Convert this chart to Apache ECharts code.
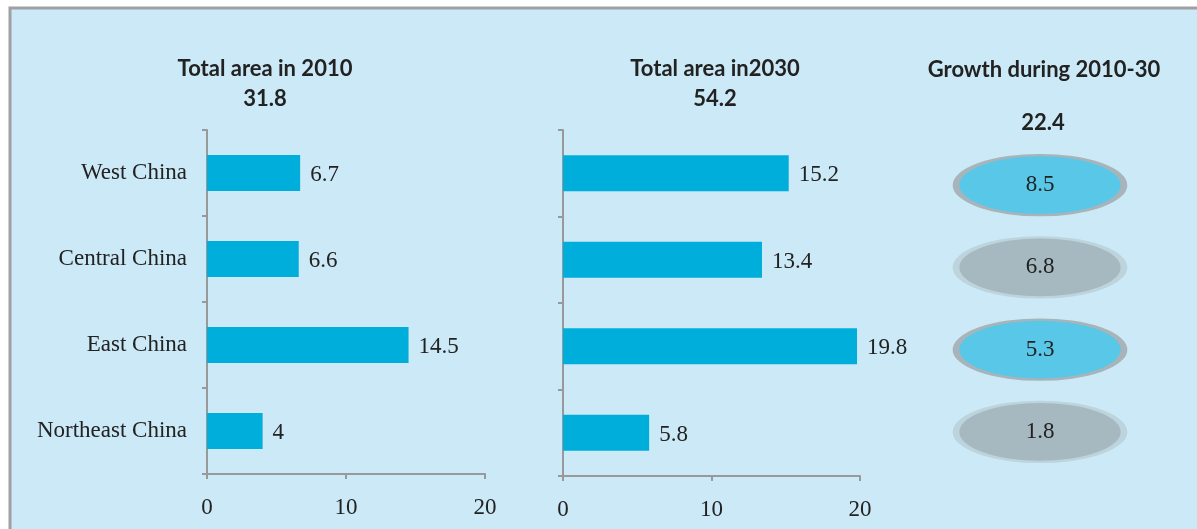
<!DOCTYPE html>
<html>
<head>
<meta charset="utf-8">
<script src="https://cdn.jsdelivr.net/npm/echarts@6/dist/echarts.min.js"></script>
<style>
  html, body { margin: 0; padding: 0; background: #fff; }
  #chart { width: 1197px; height: 529px; }
</style>
</head>
<body>
<div id="chart"></div>
<script>
  // data
  var regions = ['West China', 'Central China', 'East China', 'Northeast China'];
  var area2010 = [6.7, 6.6, 14.5, 4];
  var area2030 = [15.2, 13.4, 19.8, 5.8];
  var growth = [8.5, 6.8, 5.3, 1.8];
  var xTicks = [0, 10, 20];
  var title2010 = ['Total area in 2010', '31.8'];
  var title2030 = ['Total area in2030', '54.2'];
  var titleGrowth = ['Growth during 2010-30', '22.4'];

  var myChart = echarts.init(document.getElementById('chart'));
  var serif = '"Liberation Serif", "Times New Roman", serif';
  var sans = 'Lato, "Open Sans", sans-serif';
  var axisGray = '#999999';

  function valueAxis(gridIndex) {
    return {
      type: 'value', gridIndex: gridIndex,
      min: xTicks[0], max: xTicks[xTicks.length - 1], interval: xTicks[1] - xTicks[0],
      axisLine: { show: true, lineStyle: { color: axisGray, width: 2 } },
      axisTick: { show: true, length: 5, lineStyle: { color: axisGray, width: 2 } },
      splitLine: { show: false },
      axisLabel: { margin: 22, fontFamily: serif, fontSize: 23, color: '#222' }
    };
  }
  function catAxis(gridIndex, showLabels) {
    return {
      type: 'category', gridIndex: gridIndex, data: regions, inverse: true,
      axisLine: { show: true, lineStyle: { color: axisGray, width: 2 } },
      axisTick: { show: true, length: 5, lineStyle: { color: axisGray, width: 2 } },
      axisLabel: { show: showLabels, margin: 20, fontFamily: serif, fontSize: 23, color: '#222' }
    };
  }
  function barSeries(idx, values) {
    return {
      type: 'bar', xAxisIndex: idx, yAxisIndex: idx, data: values,
      barWidth: 36,
      itemStyle: { color: '#00AEDB' },
      label: {
        show: true, position: 'right', distance: 10, offset: [0, 2],
        fontFamily: serif, fontSize: 23, color: '#222'
      }
    };
  }

  var ellipseData = growth.map(function (g, i) {
    var blue = i % 2 === 0;
    return {
      value: [0, regions[i], g],
      itemStyle: blue
        ? { color: '#59C8E8', borderColor: '#A8B4BA', borderWidth: 4 }
        : { color: '#A6B9C1', borderColor: '#BDD4DD', borderWidth: 4 }
    };
  });

  var option = {
    animation: false,
    backgroundColor: '#ffffff',
    graphic: [
      {
        type: 'rect', z: -10, silent: true,
        shape: { x: 10, y: 8, width: 1200, height: 540 },
        style: { fill: '#CBE9F6', stroke: '#A0A0A0', lineWidth: 3 }
      },
      {
        type: 'text', x: 265, y: 54,
        style: { text: title2010.join('\n'), align: 'center', fill: '#222',
                 font: 'bold 22px ' + sans, lineHeight: 30 }
      },
      {
        type: 'text', x: 715, y: 54,
        style: { text: title2030.join('\n'), align: 'center', fill: '#222',
                 font: 'bold 22px ' + sans, lineHeight: 30 }
      },
      {
        type: 'text', x: 1044, y: 59,
        style: { text: titleGrowth[0], align: 'center', fill: '#222', font: 'bold 22px ' + sans }
      },
      {
        type: 'text', x: 1043, y: 112,
        style: { text: titleGrowth[1], align: 'center', fill: '#222', font: 'bold 22px ' + sans }
      }
    ],
    grid: [
      { left: 207, right: 712, top: 130, bottom: 55 },
      { left: 563, right: 337, top: 130, bottom: 53 },
      { left: 940, right: 57, top: 144, bottom: 56 }
    ],
    xAxis: [
      valueAxis(0),
      valueAxis(1),
      { type: 'value', gridIndex: 2, min: -1, max: 1, show: false }
    ],
    yAxis: [
      catAxis(0, true),
      catAxis(1, false),
      { type: 'category', gridIndex: 2, data: regions, inverse: true, show: false }
    ],
    series: [
      barSeries(0, area2010),
      barSeries(1, area2030),
      {
        type: 'scatter', xAxisIndex: 2, yAxisIndex: 2,
        symbol: 'circle', symbolSize: [168, 60],
        data: ellipseData,
        itemStyle: { opacity: 1 },
        label: {
          show: true, position: 'inside',
          formatter: function (p) { return p.value[2]; },
          fontFamily: serif, fontSize: 23, color: '#222'
        }
      }
    ]
  };

  option && myChart.setOption(option);
</script>
</body>
</html>
